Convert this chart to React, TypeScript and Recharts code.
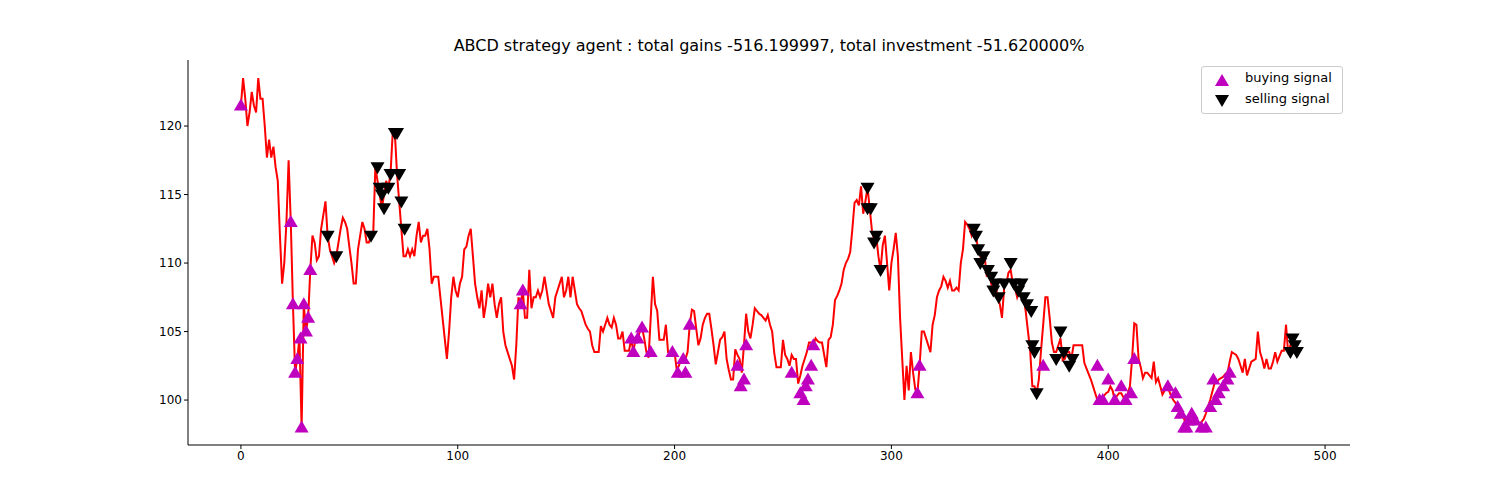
import React from 'react';
import { ComposedChart, Line, Scatter, XAxis, YAxis } from 'recharts';

const closes: number[] = [
121.5,123.5,122,120,121,122.5,121.5,121,123.5,122,
122,120,117.7,119,117.7,118.5,117,116,112,108.5,
110,113,117.5,113,107,102,103,104.5,98,107,
105,106,109.5,112,111.5,110.2,110.5,112.5,113.5,114.5,
112,111,110.5,110,110.5,111.5,112.5,113.3,113,112.5,
111.2,110,108.5,108.5,111,112,113,112.5,111.5,111.5,
112,112,117,116,115,114,115,116,115.5,116.5,
119.5,119.5,116.5,114.5,112.5,110.5,110.5,111,110.5,111,
110.5,112,113,111.5,112,112,112.5,111,108.5,109,
109,109,107.5,106,104.5,103,105,107.5,109,108,
107.5,108.5,109,111,111.2,112,112.5,110.5,108.5,107.5,
106.7,108,106,107,108.5,107.5,108.5,107,106,107,
107.5,105,104,103.5,103,102.5,101.5,104,107.5,107,
108,106,106,109.5,106.7,107.5,107.5,108,107.5,108,
109,108,107,106.5,106,107.5,108,108.5,109,107.5,
108,109,107.5,109,108,107,106.7,106.5,106,105.5,
105.2,105,104,103.5,103.5,103.5,105.4,105,105.5,106,
105.5,105.3,106,105.5,104.5,104.5,105,103.6,103.6,103.6,
104.5,103.5,104.5,104.5,105,105.3,104.5,103.5,103.1,106,
109,107,106.5,104.4,104.4,104.4,105.5,103.5,103.5,103.5,
103.5,102.2,102.5,103,103,103,103.5,105.5,106.6,106.5,
105.2,104,104.5,105.5,106,106.3,106.3,105.2,104,102.6,
103.5,104.4,104.6,105,103,102.2,101.5,101.5,103.7,103.3,
103,102,104,106.3,105,104.5,105.5,106.7,106.5,106.3,
106.2,106,105.8,106.2,105.5,105,103.4,102.4,102.4,102.4,
104.4,103.3,103,102.5,103.3,103,103,101.2,101.8,102.5,
103,103.5,104.2,104.2,104,104.5,104.3,104.2,104.2,103.3,
102.4,104.4,104.6,105.5,107.3,107.6,108,108.5,109.5,110,
110.3,110.8,112.5,114.4,114.6,114.2,115.6,113.6,114.5,115.5,
114,112.4,111.7,112,110.5,109.5,111.3,112,110,108,
110,111,112.2,110.5,106,103,100,102.5,100.7,103.5,
102,100.8,100.5,102.5,105,105,104.5,104,103.5,105.5,
106.2,107.5,108,108.3,109,108.7,108.2,108.7,108,108,
108.2,108,110,111,113,112.8,112.5,112,112.5,112,
111,110.5,110,110.5,109,109.5,108.5,108,108.5,107.5,
107,106,108.2,108.5,109.3,109.5,108.5,108.2,107.5,108,
107.5,107.5,106.4,105,103.6,101,101,100.5,101.5,103.6,
105.5,107.5,107.5,106,104.2,103.5,103.5,104,104.5,102.9,
103,103.5,103.5,103,104,104,104,104,104,102.7,
102.3,101.9,101.5,101,100.5,100,100,100,100.3,100.5,
100.6,101,100.7,100,100.3,100.5,100.5,100.2,100,100.5,
101,103,105.6,105.5,103,102.4,101.6,102,102,101.8,
101.6,102.8,101.3,101.6,101,100.4,100.7,101,100.7,100.3,
100,99.8,99.5,99.2,99,98.6,98.3,98.3,98.5,98.5,
98.5,98.3,98.2,98.4,98.6,99,99.5,100,100.6,101.2,
101.3,101.5,101.6,101.7,101.9,102,102.8,103.5,103.4,103.3,
103,102.5,102,103,101.8,102.3,102.8,102.9,103,105,
103.5,103,102.3,103,102.3,102.3,102.8,103.5,102.8,103.2,
103.6,103.6,105.5,103.4,104,104.5,103.5,103.7,
];

const buyX: number[] = [0,23,24,25,26,27.5,28,29,30,31,32,129,130,180,181,183,185,189,199,201.5,204,205,207,229,230.5,232,233,254,258,259.5,260.5,261.5,263,264,312,313,370,395,396,397.5,400,403,406,408,410.5,412,427.5,431,432,433.5,435,436,437,438.5,440,443,445,447,448.5,449.5,451,453,455,456];
const buyY: number[] = [121.5,113,107,102,103,104.5,98,107,105,106,109.5,107,108,104.5,103.5,104.5,105.3,103.5,103.5,102,103,102,105.5,102.5,101,101.5,104,102,100.5,100,101,101.5,102.5,104,100.5,102.5,102.5,102.5,100,100,101.5,100,101,100,100.5,103,101,100.5,99.5,99,98,98,98.5,99,98.5,98,98,99.5,101.5,100,100.5,101,101.5,102];
const sellX: number[] = [40,44,60,63,64,65,66,68,69,71,72,73,74,75.5,289,289,290.5,292,293,295,338,339,340,341,342.5,344.5,346,347,348,349.5,352,355,356.5,358.5,360,361,362.5,364.5,365,366,367,376,378,379.5,382,383.5,484,485,486,487];
const sellY: number[] = [112,110.5,112,117,115.5,115,114,115.5,116.5,119.5,119.5,116.5,114.5,112.5,115.5,114,114,111.5,112,109.5,112.5,112,111,110,110.5,109.5,109,108,108.5,107.5,108.5,110,108.5,108,108.5,107.5,107,106.5,104,103.5,100.5,103,105,103.5,102.5,103,103.5,104.5,104,103.5];
const xTicks: number[] = [0, 100, 200, 300, 400, 500];
const yTicks: number[] = [100, 105, 110, 115, 120];

const lineData = closes.map((c, i) => ({ x: i, close: c }));
const buyData = buyX.map((x, i) => ({ x, y: buyY[i] }));
const sellData = sellX.map((x, i) => ({ x, y: sellY[i] }));

const Up = (p: any) => (
  <path d={`M${p.cx},${p.cy - 7} L${p.cx + 7},${p.cy + 5} L${p.cx - 7},${p.cy + 5} Z`} fill="#bf00bf" />
);
const Down = (p: any) => (
  <path d={`M${p.cx},${p.cy + 7} L${p.cx + 7},${p.cy - 5} L${p.cx - 7},${p.cy - 5} Z`} fill="#000000" />
);

const font = 'DejaVu Sans, sans-serif';

export default function App() {
  return (
    <div style={{ position: 'absolute', left: 0, top: 0, width: 1500, height: 500, background: '#fff', fontFamily: font }}>
      <div style={{ position: 'absolute', top: 36, left: 188, width: 1162, textAlign: 'center', fontSize: 16, color: '#000' }}>
        ABCD strategy agent : total gains -516.199997, total investment -51.620000%
      </div>
      <ComposedChart width={1500} height={500} data={lineData} margin={{ top: 60, right: 150, bottom: 30, left: 128 }}>
        <XAxis dataKey="x" type="number" domain={[-24.4, 511.5]} ticks={xTicks} height={25}
          tick={{ fontSize: 12, fill: '#000', fontFamily: font }} stroke="#000" tickSize={4} />
        <YAxis type="number" domain={[96.72, 124.82]} ticks={yTicks} width={60}
          tick={{ fontSize: 12, fill: '#000', fontFamily: font }} stroke="#000" tickSize={4} />
        <XAxis xAxisId="top" orientation="top" type="number" domain={[-24.4, 511.5]} tick={false} tickLine={false} stroke="#000" height={0} />
        <YAxis yAxisId="right" orientation="right" domain={[0, 1]} tick={false} tickLine={false} stroke="#000" width={0} />
        <Line dataKey="close" stroke="#ff0000" strokeWidth={2} dot={false} isAnimationActive={false} />
        <Scatter data={buyData} dataKey="y" shape={Up} isAnimationActive={false} />
        <Scatter data={sellData} dataKey="y" shape={Down} isAnimationActive={false} />
      </ComposedChart>
      <div style={{ position: 'absolute', left: 1201, top: 66, width: 140, height: 46, border: '1px solid #ccc', borderRadius: 3, background: '#fff', fontSize: 13 }}>
        <svg style={{ position: 'absolute', left: 10, top: 4 }} width={20} height={40}>
          <path d="M10,3 L17,15 L3,15 Z" fill="#bf00bf" />
          <path d="M10,36 L17,24 L3,24 Z" fill="#000" />
        </svg>
        <div style={{ position: 'absolute', left: 43, top: 3 }}>buying signal</div>
        <div style={{ position: 'absolute', left: 43, top: 24 }}>selling signal</div>
      </div>
    </div>
  );
}
